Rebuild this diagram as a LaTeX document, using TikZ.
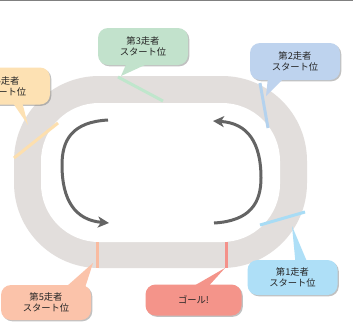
\documentclass[tikz,border=0pt]{standalone}
\usepackage{fontspec}
\newfontfamily\jp{Noto Sans CJK JP}
\usetikzlibrary{shadows,arrows.meta,calc}
\definecolor{trackgray}{HTML}{E2DEDC}
\definecolor{arrowgray}{HTML}{646464}
\definecolor{cgreen}{HTML}{C2E2CC}
\definecolor{sgreen}{HTML}{BFE6CC}
\definecolor{cblue}{HTML}{BED3EE}
\definecolor{sblue}{HTML}{B4D2EE}
\definecolor{corange}{HTML}{FDE1B3}
\definecolor{sorange}{HTML}{FDDFAE}
\definecolor{csalmon}{HTML}{FBC3AA}
\definecolor{ssalmon}{HTML}{F9BBA0}
\definecolor{cred}{HTML}{F4948A}
\definecolor{sred}{HTML}{F4918A}
\definecolor{clight}{HTML}{AEDFF7}
\definecolor{slight}{HTML}{A8DCF5}
\tikzset{
  callout/.style={rounded corners=10pt, inner sep=0pt, align=center,
    font=\jp\fontsize{9.3}{11}\selectfont, text=black!85,
    minimum width=90pt, minimum height=37pt},
  shad/.style={drop shadow={shadow xshift=1.3pt, shadow yshift=-1.3pt, opacity=.4, fill=black!60}},
  stripe/.style={line width=3pt},
  runarrow/.style={arrowgray, line width=3pt, -{Stealth[length=11pt,width=11pt,inset=3pt]}},
}
\begin{document}
\begin{tikzpicture}[x=1pt,y=-1pt]
\useasboundingbox (0,0) rectangle (353,322);
\fill[white] (0,0) rectangle (353,322);
\draw[black!50, line width=1.5pt] (0,0.5) -- (353,0.5);
% track
\fill[trackgray, rounded corners=85pt] (14,76) rectangle (307,268);
\fill[white, rounded corners=58pt] (41,103) rectangle (280,242);
% stripes
\coordinate (g1) at (118,77); \coordinate (g2) at (163,101);
\coordinate (b1) at (260,83); \coordinate (b2) at (268,128);
\coordinate (o1) at (14,158); \coordinate (o2) at (58,123);
\coordinate (s1) at (97,242); \coordinate (s2) at (97,268);
\coordinate (r1) at (226,242); \coordinate (r2) at (226,268);
\coordinate (l1) at (260,225); \coordinate (l2) at (305,212);
\draw[stripe, sgreen] (g1) -- (g2);
\draw[stripe, sblue] (b1) -- (b2);
\draw[stripe, sorange] (o1) -- (o2);
\draw[stripe, ssalmon] (s1) -- (s2);
\draw[stripe, sred] (r1) -- (r2);
\draw[stripe, slight] (l1) -- (l2);
% arrows
\coordinate (a1) at (108,120); \coordinate (a2) at (109,223);
\coordinate (a3) at (214,223); \coordinate (a4) at (213,121);
\draw[runarrow] (a1) .. controls (72,122) and (62,140) .. (62,165) .. controls (62,200) and (75,220) .. (a2);
\draw[runarrow] (a3) .. controls (250,221) and (261,203) .. (261,178) .. controls (261,143) and (248,123) .. (a4);
% tips
\coordinate (t3) at (121,76);
\coordinate (t2) at (266,96);
\coordinate (t4) at (28,125);
\coordinate (t5) at (93,263);
\coordinate (tg) at (225,268);
\coordinate (t1) at (292,226);
% callouts
\node[callout, shad, fill=cgreen] (n3) at (143,46.5) {第3走者\\スタート位};
\node[callout, shad, fill=cblue] (n2) at (295,61.5) {第2走者\\スタート位};
\node[callout, shad, fill=corange, minimum width=94pt] (n4) at (3,86) {第4走者\\スタート位};
\node[callout, shad, fill=csalmon, minimum height=35pt] (n5) at (46,302.5) {第5走者\\スタート位};
\node[callout, shad, fill=cred, minimum width=96pt, minimum height=31pt] (ng) at (193.5,300) {ゴール!};
\node[callout, shad, fill=clight, minimum height=35pt] (n1) at (292.5,277.5) {第1走者\\スタート位};
% pointers
\fill[cgreen] ([xshift=-16pt,yshift=3pt]n3.south) -- (t3) -- ([xshift=8pt,yshift=3pt]n3.south) -- cycle;
\fill[cblue] ([xshift=-27pt,yshift=3pt]n2.south) -- (t2) -- ([xshift=-10pt,yshift=3pt]n2.south) -- cycle;
\fill[corange] ([xshift=9pt,yshift=3pt]n4.south) -- (t4) -- ([xshift=19pt,yshift=3pt]n4.south) -- cycle;
\fill[csalmon] ([xshift=19pt,yshift=-3pt]n5.north) -- (t5) -- ([xshift=39pt,yshift=-3pt]n5.north) -- cycle;
\fill[cred] ([xshift=-2pt,yshift=-3pt]ng.north) -- (tg) -- ([xshift=14pt,yshift=-3pt]ng.north) -- cycle;
\fill[clight] ([xshift=3pt,yshift=-3pt]n1.north) -- (t1) -- ([xshift=15pt,yshift=-3pt]n1.north) -- cycle;
\end{tikzpicture}
\end{document}
